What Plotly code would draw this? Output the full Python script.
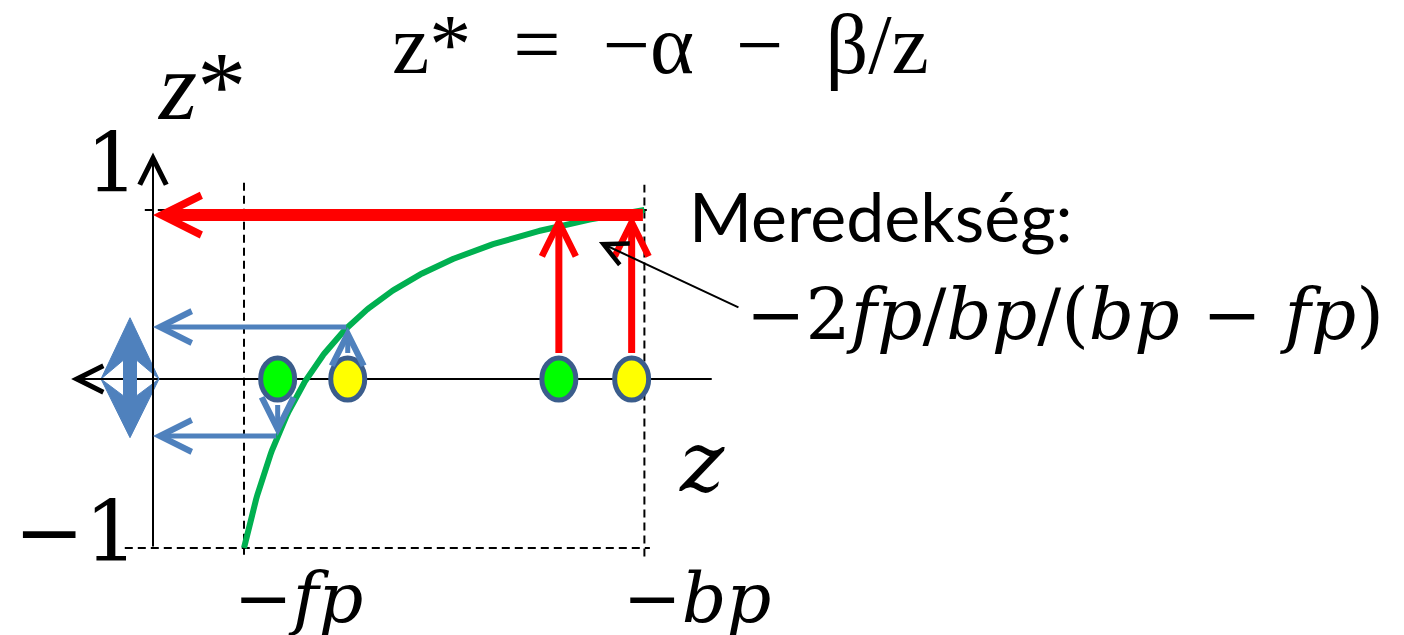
import numpy as np
import plotly.graph_objects as go

# clipping-plane distances (z is negative in front of the camera)
fp = 1.0
bp = 5.4

# sample depths: a near pair and a far pair
sample_z = [-1.37, -2.14, -4.46, -5.26]
sample_colors = ["#00ff00", "#ffff00", "#00ff00", "#ffff00"]
red_level = 0.97

# z* = -alpha - beta / z maps [-bp, -fp] onto [1, -1]
alpha = -(bp + fp) / (bp - fp)
beta = -2 * fp * bp / (bp - fp)


def zstar(z):
    return -alpha - beta / z


z_curve = np.linspace(-fp, -bp, 300)
zs_curve = zstar(z_curve)

W, H = 1404, 635
PX, PY = 91.0, 169.0          # pixels per unit along z and z*
X0, Y0 = 153.0, 379.0         # pixel position of the origin
xr = [X0 / PX, (X0 - W) / PX]
yr = [-(H - Y0) / PY, Y0 / PY]

BLUE = "#4f81bd"
RED = "#ff0000"
GREEN = "#00b050"

fig = go.Figure()
fig.add_trace(go.Scatter(x=z_curve, y=zs_curve, mode="lines",
                         line=dict(color=GREEN, width=6), hoverinfo="skip"))

shapes = []
dash = "8px,5px"
# dashed guides at -fp, -bp, z*=1 and z*=-1
shapes.append(dict(type="line", xref="x", yref="y", x0=-fp, x1=-fp, y0=-1.04, y1=1.17,
                   line=dict(color="black", width=2, dash=dash), layer="below"))
shapes.append(dict(type="line", xref="x", yref="y", x0=-bp, x1=-bp, y0=-1.05, y1=1.15,
                   line=dict(color="black", width=2, dash=dash), layer="below"))
shapes.append(dict(type="line", xref="x", yref="y", x0=0.09, x1=-bp - 0.08, y0=1, y1=1,
                   line=dict(color="black", width=2, dash=dash), layer="below"))
shapes.append(dict(type="line", xref="x", yref="y", x0=0.31, x1=-bp - 0.06, y0=-1, y1=-1,
                   line=dict(color="black", width=2, dash=dash), layer="below"))
# horizontal z axis
shapes.append(dict(type="line", xref="x", yref="y", x0=-6.14, x1=0.75, y0=0, y1=0,
                   line=dict(color="black", width=2), layer="below"))

# sample points as ellipses on the z axis
rx, ry = 17 / PX, 21 / PY
for z, c in zip(sample_z, sample_colors):
    shapes.append(dict(type="circle", xref="x", yref="y", x0=z - rx, x1=z + rx,
                       y0=-ry, y1=ry, fillcolor=c,
                       line=dict(color="#3b5d8c", width=5), layer="below"))

# up-down block arrow showing the spread of the near pair
cx = 23 / PX
wing = 29 / PX
shaft = 6.5 / PX
top = zstar(sample_z[1]) + 0.055
bot = zstar(sample_z[0]) - 0.01
n_top, n_bot = 0.112, -0.10
pts = [(cx, top), (cx - wing, 0), (cx - shaft, n_top), (cx - shaft, n_bot),
       (cx - wing, 0), (cx, bot), (cx + wing, 0), (cx + shaft, n_bot),
       (cx + shaft, n_top), (cx + wing, 0)]
path = "M " + " L ".join(f"{x:.4f},{y:.4f}" for x, y in pts) + " Z"
shapes.append(dict(type="path", xref="x", yref="y", path=path,
                   fillcolor=BLUE, line=dict(color=BLUE, width=1), layer="above"))

annotations = []


def arrow(x_tail, y_tail, x_head, y_head, color, width, size, head=5):
    annotations.append(dict(x=x_head, y=y_head, ax=x_tail, ay=y_tail,
                            xref="x", yref="y", axref="x", ayref="y",
                            text="", showarrow=True, arrowhead=head,
                            arrowsize=size, arrowwidth=width, arrowcolor=color,
                            standoff=0, startstandoff=0))


# axes arrow heads
arrow(0, -1, 0, 1.34, "black", 2, 2.6)
arrow(0.5, 0, 0.9, 0, "black", 2, 2.6)

# red: far samples all land near z* = 1
arrow(-bp, red_level, 0, red_level, RED, 12, 0.65)
for z in sample_z[2:]:
    arrow(z, ry + 0.02, z, red_level, RED, 7, 0.95)

# blue: near samples spread across z*
zy = sample_z[1]
arrow(zy, ry + 0.02, zy, zstar(zy), BLUE, 5, 1.25)
arrow(zy, zstar(zy), 0, zstar(zy), BLUE, 5, 1.25)
zg = sample_z[0]
arrow(zg, -ry - 0.02, zg, zstar(zg), BLUE, 5, 1.25)
arrow(zg, zstar(zg), 0, zstar(zg), BLUE, 5, 1.25)

# pointer to the slope at the far plane
arrow(-6.45, 0.42, -4.9, 0.81, "black", 2, 2.3)


def label(px, py, text, size, family="DejaVu Serif", color="black"):
    annotations.append(dict(x=px / W, y=1 - py / H, xref="paper", yref="paper",
                            text=text, showarrow=False, xanchor="center",
                            yanchor="middle", borderpad=6,
                            font=dict(size=size, family=family, color=color)))


sp = "\u2002"
label(660, 44, f"z*{sp}={sp}−α{sp}−{sp}β/z", 84, family="Liberation Serif")
label(201, 86, "<i>z</i>*", 98, family="Liberation Serif")
label(112, 163, "1", 82)
label(76, 532, "−1", 84)
label(702, 462, "<i>z</i>", 84)
label(298, 598, "−<i>fp</i>", 70)
label(697, 598, "−<i>bp</i>", 70)
label(881, 215, "Meredekség:", 68, family="Lato")
label(1065, 314, "−2<i>fp</i>/<i>bp</i>/(<i>bp</i> − <i>fp</i>)", 71)

fig.update_layout(
    width=W, height=H, margin=dict(l=0, r=0, t=0, b=0),
    paper_bgcolor="white", plot_bgcolor="white", showlegend=False,
    xaxis=dict(range=xr, visible=False, fixedrange=True),
    yaxis=dict(range=yr, visible=False, fixedrange=True),
    shapes=shapes, annotations=annotations,
)
fig.write_html("out.html")
